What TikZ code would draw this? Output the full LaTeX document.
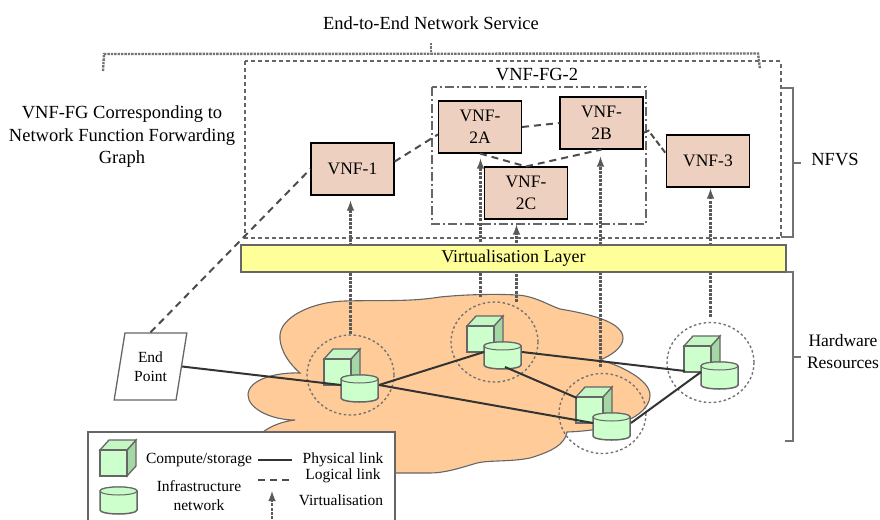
\documentclass[tikz,border=0pt]{standalone}
\usepackage{fontspec}
\setmainfont{Liberation Serif}
\usetikzlibrary{arrows}
\usetikzlibrary{shapes.geometric}
\definecolor{vnfpink}{HTML}{EED0C0}
\definecolor{layeryellow}{HTML}{FFFF99}
\definecolor{cloudorange}{HTML}{FFCC99}
\definecolor{hostgreen}{HTML}{CCFFCC}
\definecolor{hostside}{HTML}{A5D6A5}
\tikzset{
	vnfbox/.style={draw=black,fill=vnfpink,line width=1.1pt,minimum width=83pt,minimum height=52pt,inner sep=0pt,align=center,font=\fontsize{17.5}{22}\selectfont},
	txt/.style={inner sep=0pt,align=center,font=\fontsize{18.5}{22.5}\selectfont},
	legtxt/.style={inner sep=0pt,align=center,font=\fontsize{15.5}{19}\selectfont},
	logical/.style={dash pattern=on 7pt off 5pt,line width=2pt,draw=black!70},
	physical/.style={line width=2pt,draw=black!80},
	virt/.style={-latex,dash pattern=on 3pt off 1.2pt,line width=2.4pt,draw=black!65},
	bracket/.style={line width=1.7pt,draw=black!55},
	hostring/.style={draw=black!55,ellipse,line width=1.4pt,dash pattern=on 2.5pt off 2.5pt,minimum width=87pt,minimum height=80pt,inner sep=0pt},
	cubepic/.pic={
		\fill[hostside,draw=black!60,line width=1.3pt] (27,0) -- (36,-10) -- (36,16) -- (27,26) -- cycle;
		\fill[hostgreen!80!hostside,draw=black!60,line width=1.3pt] (0,0) -- (9,-10) -- (36,-10) -- (27,0) -- cycle;
		\fill[hostgreen,draw=black!60,line width=1.3pt] (0,0) rectangle (27,26);
	},
	cylpic/.pic={
		\fill[hostgreen,draw=black!60,line width=1.5pt] (0,4) -- (0,23) arc (180:360:18.5pt and 4pt) -- (37,4) arc (0:180:18.5pt and 4pt) -- cycle;
		\draw[fill=hostgreen!90!hostside,draw=black!60,line width=1pt] (18.5,4) ellipse (18.5pt and 4pt);
	},
	hostpic/.pic={
		\pic at (0,0) {cubepic};
		\pic at (17,16) {cylpic};
		\coordinate (-cubewest) at (1,25);
		\coordinate (-west) at (17,26);
		\coordinate (-east) at (55,26);
		\coordinate (-south) at (38,41);
		\coordinate (-north) at (1,1);
	},
}
\begin{document}
\begin{tikzpicture}[x=1pt,y=-1pt]
	\useasboundingbox (0,0) rectangle (880,519);

	% cloud
	\fill[cloudorange,draw=black!60,line width=1.1pt] (263,432)
		.. controls (272,425) and (285,421) .. (295,420)
		.. controls (270,420) and (248,408) .. (248,395)
		.. controls (248,380) and (275,372) .. (300,373)
		.. controls (285,360) and (279,345) .. (280,335)
		.. controls (281,318) and (310,302) .. (345,301)
		.. controls (380,300) and (410,302) .. (440,297)
		.. controls (470,294) and (500,294) .. (517,295)
		.. controls (535,296) and (548,305) .. (560,309)
		.. controls (590,314) and (623,322) .. (623,338)
		.. controls (623,348) and (610,356) .. (600,360)
		.. controls (620,365) and (650,380) .. (650,395)
		.. controls (650,412) and (625,430) .. (567,432)
		.. controls (565,445) and (550,452) .. (530,458)
		.. controls (510,462) and (490,460) .. (477,463)
		.. controls (460,468) and (445,473) .. (430,473)
		-- (263,473) -- cycle;

	\node[hostring] (ringa) at (350.5,375) {};
	\node[hostring] (ringb) at (494.5,342) {};
	\node[hostring] (ringc) at (602.5,413.5) {};
	\node[hostring] (ringd) at (710.5,362.5) {};

	% top boxes
	\draw[line width=2pt,draw=black!60,dash pattern=on 4pt off 3pt] (245,61) rectangle (780.5,237.5);
	\draw[line width=1.8pt,draw=black!60,dash pattern=on 9pt off 3pt on 2pt off 3pt] (432,87) rectangle (646,224);

	\node[vnfbox] (vnf1) at (352.5,169) {VNF-1};
	\node[vnfbox] (vnf2a) at (480,127) {VNF-\\2A};
	\node[vnfbox] (vnf2b) at (601.5,123) {VNF-\\2B};
	\node[vnfbox] (vnf2c) at (526,193) {VNF-\\2C};
	\node[vnfbox] (vnf3) at (708,161) {VNF-3};

	\node[trapezium,trapezium left angle=77,trapezium right angle=103,draw=black!60,fill=white,line width=1.3pt,minimum height=67pt,minimum width=73pt,inner sep=0pt,trapezium stretches=true,align=center,font=\fontsize{15.5}{19}\selectfont] (endpoint) at (150.5,366.5) {End\\Point};

	% logical links
	\draw[logical] (endpoint.north) -- (vnf1.west);
	\draw[logical] (vnf1.10) -- (vnf2a.190);
	\draw[logical] (vnf2a.east) -- (vnf2b.west);
	\draw[logical] (vnf2a.south) -- (vnf2c.north);
	\draw[logical] (vnf2c.north) -- (vnf2b.south);
	\draw[logical,dash pattern=on 6pt off 3pt] (vnf2b.-13) -- ++(5,-2) -- (vnf3.170);

	% virtualisation
	\coordinate (virta) at (480.5,297);
	\coordinate (virtb) at (516.5,302);
	\coordinate (virtc) at (600.5,367);
	\coordinate (virtd) at (710.5,317);
	\draw[virt,shorten >=5pt] (ringa.north) -- (ringa.north |- vnf1.south);
	\draw[virt,shorten >=5pt] (virta) -- (virta |- vnf2a.south);
	\draw[virt,shorten >=5pt] (virtb) -- (virtb |- vnf2c.south);
	\draw[virt,shorten >=7pt] (virtc) -- (virtc |- vnf2b.south);
	\draw[virt,shorten >=1pt] (virtd) -- (virtd |- vnf3.south);

	\node[draw=black!60,fill=layeryellow,line width=1.5pt,minimum width=545pt,minimum height=27pt,inner sep=0pt,font=\fontsize{18}{22}\selectfont] (layer) at (513.5,258.5) {Virtualisation Layer};

	% hosts and physical links
	\coordinate (hosta) at (324,359);
	\coordinate (hostb) at (467,326);
	\coordinate (hostc) at (576,397);
	\coordinate (hostd) at (684,346);
	\pic (ha) at (hosta) {hostpic};
	\pic (hb) at (hostb) {hostpic};
	\pic (hc) at (hostc) {hostpic};
	\pic (hd) at (hostd) {hostpic};
	\draw[physical] (endpoint.east) -- (ha-west);
	\draw[physical] (ha-east) -- (hb-west);
	\draw[physical] (ha-east) -- (hc-west);
	\draw[physical] (hb-east) -- (hd-cubewest);
	\draw[physical] (hb-south) -- (hc-north);
	\draw[physical] (hc-east) -- (hd-west);

	% brackets
	\draw[densely dotted,line width=2.4pt,draw=black!55] (103,71) -- (104,54) -- (758,53.5) -- (760,69);
	\draw[densely dotted,line width=2.4pt,draw=black!55] (431,43) -- (431,53.5);
	\draw[bracket] (780.5,88) -- (793,88) -- (793,237) -- (780.5,237);
	\draw[bracket] (793,163) -- (801,163);
	\draw[bracket] (786,272) -- (793,272) -- (793,441) -- (785,441);
	\draw[bracket] (793,357) -- (801,357);

	\node[txt] (service) at (431,23) {End-to-End Network Service};
	\node[txt] (fglabel) at (122,137) {VNF-FG Corresponding to\\Network Function Forwarding\\Graph};
	\node[txt] (fgtwo) at (537,75) {VNF-FG-2};
	\node[txt] (nfvs) at (835,160) {NFVS};
	\node[txt,font=\fontsize{17.5}{21.5}\selectfont] (hardware) at (843,351.5) {Hardware\\Resources};

	% legend
	\fill[white,draw=black!60,line width=1.5pt] (88,521) -- (88,432) -- (395,432) -- (395,521);
	\pic at (100,450) {cubepic};
	\pic at (100,487) {cylpic};
	\node[legtxt] (legcompute) at (199,460) {Compute/storage};
	\node[legtxt] (leginfra) at (199,495.5) {Infrastructure\\network};
	\node[legtxt] (legphysical) at (343,460) {Physical link};
	\node[legtxt] (leglogical) at (343,476) {Logical link};
	\node[legtxt] (legvirt) at (341,500) {Virtualisation};
	\coordinate (physa) at (258,460);
	\coordinate (physb) at (292,460);
	\coordinate (loga) at (258,480);
	\coordinate (logb) at (292,480);
	\coordinate (virtlega) at (272,519);
	\coordinate (virtlegb) at (272,491);
	\draw[physical] (physa) -- (physb);
	\draw[logical] (loga) -- (logb);
	\draw[virt] (virtlega) -- (virtlegb);
\end{tikzpicture}
\end{document}
